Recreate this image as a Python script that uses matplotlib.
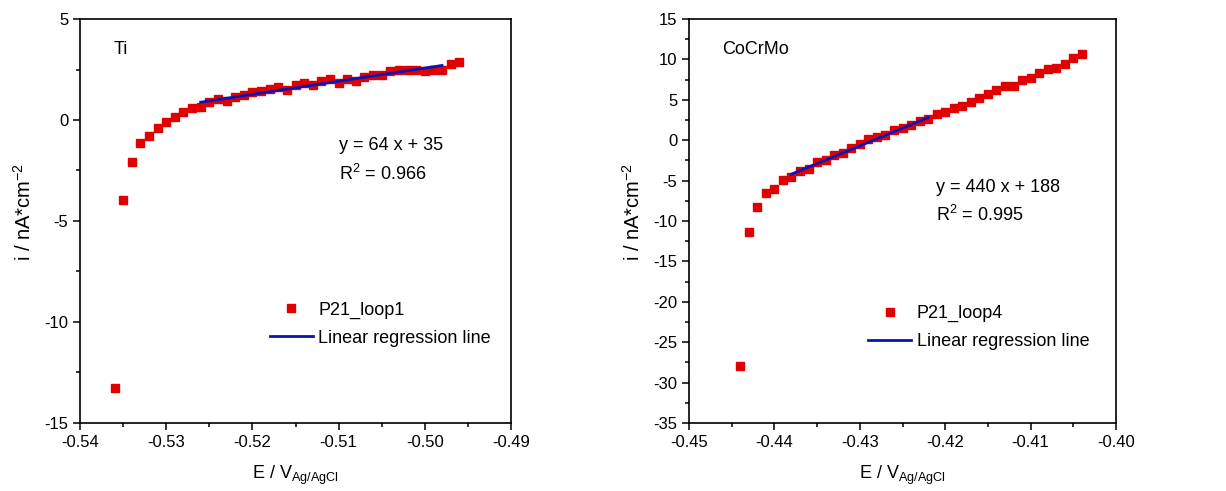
import numpy as np
import matplotlib
matplotlib.use("Agg")
import matplotlib.pyplot as plt
from matplotlib.ticker import MultipleLocator, FormatStrFormatter

plt.rcParams['font.family'] = ['Liberation Sans', 'DejaVu Sans']
plt.rcParams['mathtext.fontset'] = 'custom'
plt.rcParams['mathtext.rm'] = 'Liberation Sans'
plt.rcParams['mathtext.it'] = 'Liberation Sans'
plt.rcParams['axes.unicode_minus'] = False

# Ti, P21_loop1
ti_E = [-0.536, -0.535, -0.534, -0.533, -0.532, -0.531, -0.530, -0.529, -0.528, -0.527,
        -0.526, -0.525, -0.524, -0.523, -0.522, -0.521, -0.520, -0.519, -0.518, -0.517,
        -0.516, -0.515, -0.514, -0.513, -0.512, -0.511, -0.510, -0.509, -0.508, -0.507,
        -0.506, -0.505, -0.504, -0.503, -0.502, -0.501, -0.500, -0.499, -0.498, -0.497,
        -0.496]
ti_i = [-13.25, -3.96, -2.10, -1.12, -0.79, -0.41, -0.10, 0.13, 0.38, 0.61,
        0.63, 0.87, 1.04, 0.96, 1.12, 1.24, 1.37, 1.42, 1.52, 1.65,
        1.49, 1.73, 1.85, 1.75, 1.92, 2.01, 1.85, 2.03, 1.95, 2.11,
        2.23, 2.21, 2.44, 2.48, 2.49, 2.49, 2.45, 2.49, 2.50, 2.79,
        2.86]
ti_fit_E = [-0.526, -0.498]
ti_fit_i = [0.88, 2.70]

# CoCrMo, P21_loop4
co_E = [-0.444, -0.443, -0.442, -0.441, -0.440, -0.439, -0.438, -0.437, -0.436, -0.435,
        -0.434, -0.433, -0.432, -0.431, -0.430, -0.429, -0.428, -0.427, -0.426, -0.425,
        -0.424, -0.423, -0.422, -0.421, -0.420, -0.419, -0.418, -0.417, -0.416, -0.415,
        -0.414, -0.413, -0.412, -0.411, -0.410, -0.409, -0.408, -0.407, -0.406, -0.405,
        -0.404]
co_i = [-28.0, -11.4, -8.3, -6.5, -6.08, -4.97, -4.51, -3.85, -3.56, -2.74,
        -2.41, -1.83, -1.58, -0.93, -0.47, 0.15, 0.44, 0.60, 1.22, 1.47,
        1.88, 2.38, 2.62, 3.28, 3.49, 4.02, 4.23, 4.69, 5.26, 5.72,
        6.18, 6.67, 6.71, 7.45, 7.74, 8.32, 8.81, 8.90, 9.47, 10.21,
        10.63]
co_fit_E = [-0.438, -0.422]
co_fit_i = [-4.2, 2.8]

fig = plt.figure(figsize=(12.26, 4.91), dpi=100)
ax1 = fig.add_axes([0.0653, 0.1385, 0.3515, 0.8228])
ax2 = fig.add_axes([0.562, 0.1385, 0.3483, 0.8228])

panels = [
    (ax1, ti_E, ti_i, ti_fit_E, ti_fit_i, 'P21_loop1', 'Ti',
     'y = 64 x + 35', 'R$^2$ = 0.966', (-0.54, -0.49), (-15, 5),
     (0.601, 0.686, 0.616), (0.44, 0.30)),
    (ax2, co_E, co_i, co_fit_E, co_fit_i, 'P21_loop4', 'CoCrMo',
     'y = 440 x + 188', 'R$^2$ = 0.995', (-0.45, -0.40), (-35, 15),
     (0.578, 0.582, 0.515), (0.419, 0.292)),
]

for ax, E, I, fE, fI, lab, name, eq, r2, xl, yl, eqpos, legpos in panels:
    ax.plot(E, I, 's', color='#e00000', ms=5.5, mec='#e00000', label=lab, zorder=2)
    ax.plot(fE, fI, '-', color='#0a14b4', lw=2, label='Linear regression line', zorder=3)
    ax.set_xlim(xl)
    ax.set_ylim(yl)
    ax.xaxis.set_major_locator(MultipleLocator(0.01))
    ax.xaxis.set_minor_locator(MultipleLocator(0.005))
    ax.xaxis.set_major_formatter(FormatStrFormatter('%.2f'))
    ax.yaxis.set_major_locator(MultipleLocator(5))
    ax.yaxis.set_minor_locator(MultipleLocator(2.5))
    ax.tick_params(which='both', direction='out', labelsize=12, width=1.1,
                   top=False, right=False)
    ax.tick_params(which='major', length=5)
    ax.tick_params(which='minor', length=3)
    for s in ax.spines.values():
        s.set_linewidth(1.2)
    ax.set_xlabel('E / V$_{\\mathrm{Ag/AgCl}}$', fontsize=13, labelpad=10)
    ax.set_ylabel('i / nA*cm$^{-2}$', fontsize=14.5)
    ax.yaxis.set_label_coords(-0.105, 0.522)
    ax.text(0.077, 0.925, name, transform=ax.transAxes, fontsize=13, va='center')
    ax.text(eqpos[0], eqpos[1], eq, transform=ax.transAxes, fontsize=13, va='center')
    ax.text(eqpos[0], eqpos[2], r2, transform=ax.transAxes, fontsize=13, va='center')
    ax.legend(loc='upper left', bbox_to_anchor=legpos, frameon=False, fontsize=13,
              borderpad=0, borderaxespad=0, handlelength=2.4, handletextpad=0.3,
              labelspacing=0.6)

fig.savefig('out.png', dpi=100)
